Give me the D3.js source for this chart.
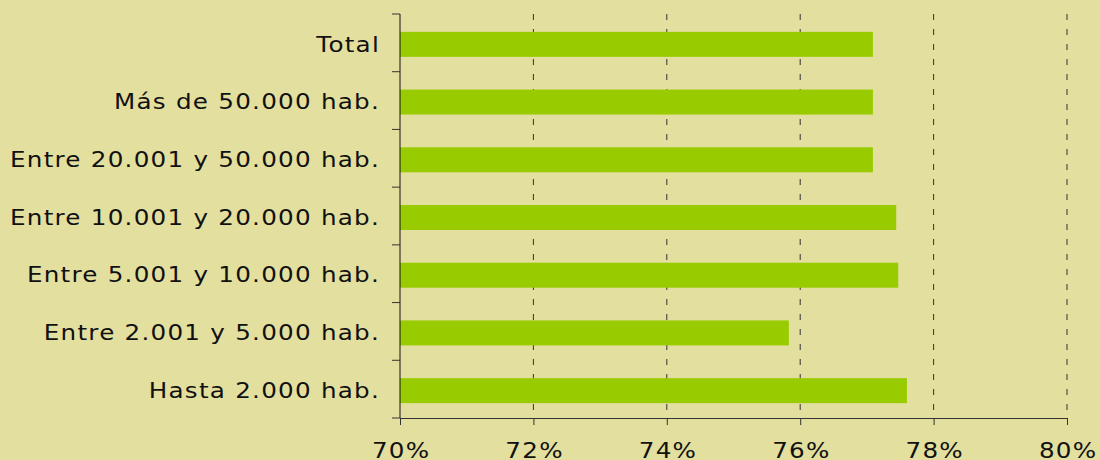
<!DOCTYPE html>
<html>
<head>
<meta charset="utf-8">
<script src="https://cdn.jsdelivr.net/npm/d3@7"></script>
<style>
  body { margin: 0; background: #e3df9f; }
  .app text { font-family: "DejaVu Sans", Verdana, sans-serif; fill: #111; }
  .grid-line { stroke: #333; stroke-dasharray: 6,9; }
</style>
</head>
<body>
<div class="app"></div>
<script>
'use strict'

// categories top to bottom
var categories = [
  "Total",
  "Más de 50.000 hab.",
  "Entre 20.001 y 50.000 hab.",
  "Entre 10.001 y 20.000 hab.",
  "Entre 5.001 y 10.000 hab.",
  "Entre 2.001 y 5.000 hab.",
  "Hasta 2.000 hab."
];
var values = [77.09, 77.09, 77.09, 77.44, 77.47, 75.83, 77.60];
var xTicks = [70, 72, 74, 76, 78, 80];

var margin = {top: 14, right: 33, bottom: 42, left: 400};
var width = 1100 - margin.left - margin.right;
var height = 460 - margin.top - margin.bottom;

var x = d3.scaleLinear().domain([70, 80]).range([0, width]);
var y = d3.scaleBand().domain(categories).range([0, height]);

var svg = d3.select(".app")
  .append("svg")
  .attr("width", 1100)
  .attr("height", 460);

svg.append("rect").attr("width", 1100).attr("height", 460).attr("fill", "#e3df9f");

var g = svg.append("g")
  .attr("transform", "translate(" + margin.left + "," + margin.top + ")");

// vertical dashed grid
g.selectAll(".grid-line")
  .data(xTicks.slice(1))
  .enter().append("line")
  .attr("class", "grid-line")
  .attr("x1", function(d) { return x(d); })
  .attr("x2", function(d) { return x(d); })
  .attr("y1", 0)
  .attr("y2", height);

// bars
var barH = 25;
g.selectAll(".bar")
  .data(values)
  .enter().append("rect")
  .attr("class", "bar")
  .attr("x", x(70))
  .attr("y", function(d, i) { return y(categories[i]) + y.bandwidth() / 2 - barH / 2 + 1.5; })
  .attr("width", function(d) { return x(d) - x(70); })
  .attr("height", barH)
  .attr("fill", "#99cc00");

// x axis
var xAxis = d3.axisBottom(x)
  .tickValues(xTicks)
  .tickFormat(function(d) { return d + "%"; })
  .tickSizeInner(7)
  .tickSizeOuter(0)
  .tickPadding(17);

var xg = g.append("g")
  .attr("transform", "translate(0," + height + ")")
  .call(xAxis);
xg.select(".domain").attr("stroke", "#333");
xg.selectAll(".tick line").attr("stroke", "#333");
xg.selectAll("text")
  .style("font-size", "22px")
  .style("letter-spacing", "1.1px")
  .attr("dx", "0.6px")
  .attr("transform", "scale(1.12,1)")
  .attr("fill", "#111");

// y axis with ticks on band boundaries
var yg = g.append("g");
yg.append("line")
  .attr("x1", 0).attr("x2", 0)
  .attr("y1", 0).attr("y2", height)
  .attr("stroke", "#111");
var bounds = categories.map(function(c) { return y(c); }).concat([height]);
yg.selectAll(".ytick")
  .data(bounds)
  .enter().append("line")
  .attr("class", "ytick")
  .attr("x1", -8).attr("x2", 0)
  .attr("y1", function(d) { return d; })
  .attr("y2", function(d) { return d; })
  .attr("stroke", "#333");
yg.selectAll(".ylabel")
  .data(categories)
  .enter().append("text")
  .attr("class", "ylabel")
  .attr("transform", function(d) {
    return "translate(-20," + (y(d) + y.bandwidth() / 2 + 1) + ") scale(1.12,1)";
  })
  .attr("dy", "0.35em")
  .attr("text-anchor", "end")
  .style("font-size", "22px")
  .style("letter-spacing", "1.1px")
  .text(function(d) { return d; });
</script>
</body>
</html>
